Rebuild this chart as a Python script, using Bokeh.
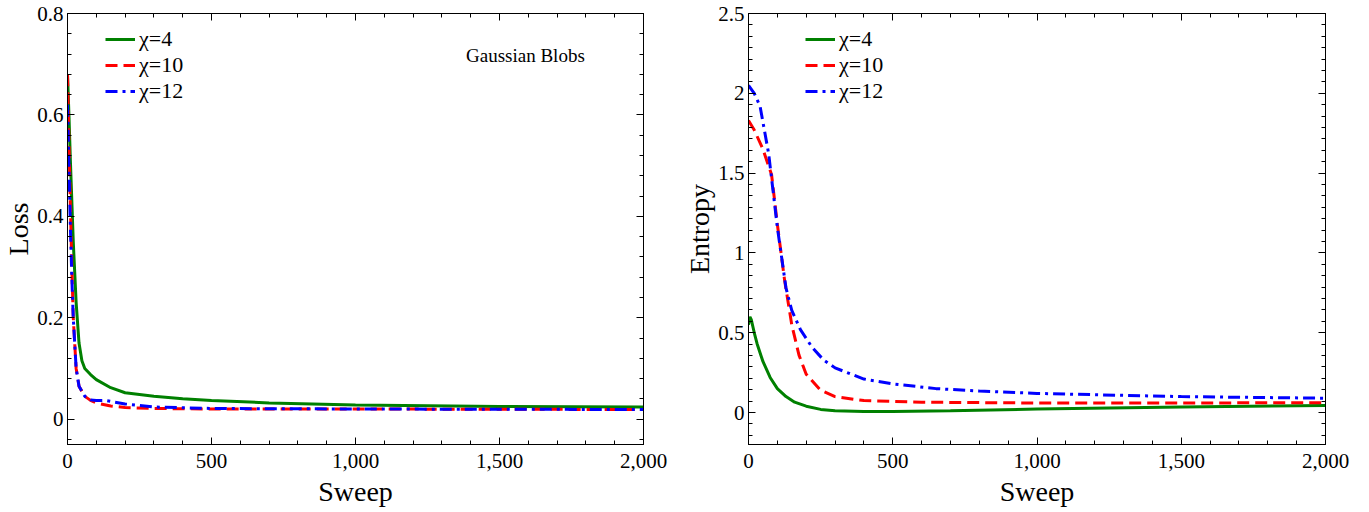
import numpy as np
from bokeh.plotting import figure
from bokeh.layouts import row
from bokeh.models import (LinearAxis, FixedTicker, NumeralTickFormatter, Legend,
                          LegendItem, Label, Range1d)
from bokeh.embed import file_html
from bokeh.resources import INLINE

# ---------------- data ----------------
series_names = ["\u03c7=4", "\u03c7=10", "\u03c7=12"]

# Loss panel
loss_sweep_4 = [0, 5, 10, 15, 20, 25, 30, 40, 50, 60, 80, 100, 150, 200, 300, 400, 500, 700, 1000, 1500, 2000]
loss_val_4 = [0.68, 0.6, 0.51, 0.43, 0.35, 0.29, 0.23, 0.15, 0.115, 0.1, 0.088, 0.078, 0.062, 0.052,
              0.045, 0.04, 0.037, 0.032, 0.028, 0.025, 0.024]
loss_sweep_10 = [0, 5, 10, 15, 20, 30, 40, 60, 80, 100, 150, 200, 300, 500, 1000, 2000]
loss_val_10 = [0.68, 0.55, 0.42, 0.3, 0.2, 0.1, 0.065, 0.045, 0.037, 0.032, 0.026, 0.023, 0.021, 0.02, 0.02, 0.019]
loss_sweep_12 = [0, 5, 10, 15, 20, 30, 40, 60, 80, 100, 130, 160, 200, 300, 500, 1000, 2000]
loss_val_12 = [0.62, 0.5, 0.38, 0.28, 0.2, 0.1, 0.065, 0.045, 0.038, 0.037, 0.037, 0.034, 0.03, 0.024,
               0.021, 0.02, 0.019]

# Entropy panel
ent_sweep_4 = [0, 5, 10, 20, 30, 50, 75, 100, 130, 160, 200, 250, 300, 400, 500, 700, 1000, 1500, 2000]
ent_val_4 = [0.55, 0.6, 0.58, 0.5, 0.43, 0.32, 0.22, 0.15, 0.1, 0.065, 0.04, 0.02, 0.012, 0.006,
             0.007, 0.012, 0.022, 0.035, 0.045]
ent_sweep_10 = [0, 20, 50, 80, 100, 125, 150, 175, 200, 250, 300, 400, 600, 1000, 1500, 2000]
ent_val_10 = [1.83, 1.77, 1.65, 1.49, 1.18, 0.83, 0.55, 0.36, 0.24, 0.14, 0.1, 0.075, 0.065, 0.06, 0.06, 0.062]
ent_sweep_12 = [0, 20, 40, 70, 100, 130, 150, 180, 220, 260, 300, 400, 500, 650, 800, 1000, 1500, 2000]
ent_val_12 = [2.05, 2.0, 1.92, 1.62, 1.16, 0.78, 0.64, 0.52, 0.41, 0.33, 0.28, 0.21, 0.18, 0.15,
              0.135, 0.12, 0.1, 0.09]

x_ticks = [0, 500, 1000, 1500, 2000]
loss_ticks = [0, 0.2, 0.4, 0.6, 0.8]
loss_tick_labels = ["0", "0.2", "0.4", "0.6", "0.8"]
ent_ticks = [0, 0.5, 1.0, 1.5, 2.0, 2.5]
ent_tick_labels = ["0", "0.5", "1", "1.5", "2", "2.5"]

# ---------------- style ----------------
FONT = "Liberation Serif"
colors = ["#008000", "#ff0000", "#0000ff"]
dashes = ["solid", "12 6", "12 5 3 5"]

x_minor = list(np.arange(0, 2001, 100))
loss_minor = list(np.round(np.arange(-0.04, 0.81, 0.04), 4))
ent_minor = list(np.round(np.arange(-3, 36) * (0.5 / 7), 4))


def style_axis(ax, ticks, minors, show_labels=True, overrides=None):
    ax.ticker = FixedTicker(ticks=ticks, minor_ticks=minors)
    ax.major_tick_in = 7
    ax.major_tick_out = 0
    ax.minor_tick_in = 4
    ax.minor_tick_out = 0
    ax.axis_line_color = "black"
    ax.major_tick_line_color = "black"
    ax.minor_tick_line_color = "black"
    ax.major_label_text_font = FONT
    ax.axis_label_text_font = FONT
    ax.axis_label_text_font_style = "normal"
    ax.axis_label_text_color = "black"
    ax.axis_label_text_font_size = "28px"
    ax.axis_label_standoff = 4
    if show_labels:
        ax.major_label_text_color = "black"
        ax.major_label_text_font_size = "21px"
        ax.major_label_standoff = 6
    else:
        ax.major_label_text_color = None
        ax.major_label_text_font_size = "0px"
        ax.major_label_standoff = 0
    if overrides:
        ax.major_label_overrides = overrides


def make_panel(fw, border_left, border_right, y_range, y_ticks, y_labels, y_minor,
               ylabel, data, legend_loc):
    p = figure(frame_width=fw, frame_height=431, output_backend="svg", toolbar_location=None,
               x_range=Range1d(0, 2000), y_range=y_range,
               x_axis_location=None, y_axis_location=None,
               min_border_left=border_left, min_border_right=border_right,
               min_border_top=13, min_border_bottom=10)
    p.grid.visible = False
    p.outline_line_color = "black"
    p.outline_line_width = 1
    p.background_fill_color = "white"
    p.border_fill_color = "white"

    xb = LinearAxis(axis_label="Sweep")
    style_axis(xb, x_ticks, x_minor)
    xb.formatter = NumeralTickFormatter(format="0,0")
    xb.major_label_standoff = 9
    xb.axis_label_standoff = 5
    p.add_layout(xb, "below")
    xt = LinearAxis()
    style_axis(xt, x_ticks, x_minor, show_labels=False)
    p.add_layout(xt, "above")

    yl = LinearAxis(axis_label=ylabel)
    style_axis(yl, y_ticks, y_minor,
               overrides={t: s for t, s in zip(y_ticks, y_labels)})
    yl.major_label_standoff = 4
    yl.axis_label_standoff = 0
    p.add_layout(yl, "left")
    yr = LinearAxis()
    style_axis(yr, y_ticks, y_minor, show_labels=False)
    p.add_layout(yr, "right")

    items = []
    for (xs, ys), name, c, d in zip(data, series_names, colors, dashes):
        r = p.line(xs, ys, line_color=c, line_width=3, line_dash=d)
        items.append(LegendItem(label=name, renderers=[r]))
    leg = Legend(items=items, location=legend_loc, glyph_width=30, glyph_height=20,
                 label_text_font=FONT, label_text_font_size="22px",
                 label_text_color="black",
                 label_height=23, spacing=-2, padding=0, margin=0,
                 label_standoff=4, border_line_color=None,
                 background_fill_alpha=0)
    p.add_layout(leg, "center")
    return p


p1 = make_panel(576, 67, 36, Range1d(-0.05, 0.8), loss_ticks, loss_tick_labels, loss_minor,
                "Loss",
                [(loss_sweep_4, loss_val_4), (loss_sweep_10, loss_val_10), (loss_sweep_12, loss_val_12)],
                (38, 340))
p1.add_layout(Label(x=1590, y=0.717, text="Gaussian Blobs", text_font=FONT,
                    text_font_size="19px", text_align="center", text_baseline="middle",
                    text_color="black"))

p2 = make_panel(577, 69, 34, Range1d(-0.2, 2.5), ent_ticks, ent_tick_labels, ent_minor,
                "Entropy",
                [(ent_sweep_4, ent_val_4), (ent_sweep_10, ent_val_10), (ent_sweep_12, ent_val_12)],
                (57, 340))

layout = row(p1, p2)
open("out.html", "w").write(file_html(layout, INLINE))
